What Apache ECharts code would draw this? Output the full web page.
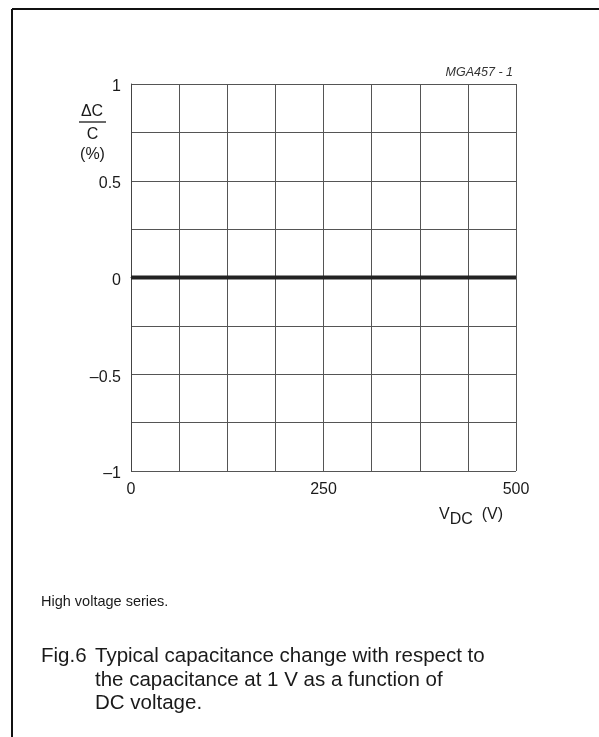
<!DOCTYPE html>
<html>
<head>
<meta charset="utf-8">
<style>
  html, body { margin: 0; padding: 0; background: #fff; }
  #chart { width: 599px; height: 737px; }
</style>
<script src="https://cdn.jsdelivr.net/npm/echarts@6/dist/echarts.min.js"></script>
</head>
<body>
<div id="chart"></div>
<script>
// data
const voltage = [0, 500];          // V_DC (V)
const capChange = [0, 0];          // ΔC/C (%)
const xTickLabels = [0, 250, 500];
const yTickLabels = [-1, -0.5, 0, 0.5, 1];

const FONT = 'Liberation Sans, Arial, Helvetica, sans-serif';
const INK = '#1a1a1a';

const chart = echarts.init(document.getElementById('chart'));

function fmtNum(v) {
  const s = String(Math.abs(v));
  return v < 0 ? '\u2013' + s : s;
}

function label(x, y, text, size) {
  return {
    type: 'text', x: x, y: y,
    style: { text: text, font: size + 'px ' + FONT, fill: INK, align: 'center', verticalAlign: 'middle' }
  };
}

chart.setOption({
  animation: false,
  backgroundColor: '#fff',
  grid: { left: 131, top: 84, width: 385, height: 387 },
  xAxis: {
    type: 'value',
    min: 0,
    max: 500,
    interval: 62.5,
    axisLine: { show: true, lineStyle: { color: '#444', width: 1 } },
    axisTick: { show: false },
    splitLine: { show: true, lineStyle: { color: '#555', width: 1 } },
    axisLabel: {
      margin: 11,
      fontSize: 16,
      color: INK,
      fontFamily: FONT,
      showMinLabel: true,
      showMaxLabel: true,
      formatter: v => xTickLabels.indexOf(v) >= 0 ? fmtNum(v) : ''
    }
  },
  yAxis: {
    type: 'value',
    min: -1,
    max: 1,
    interval: 0.25,
    axisLine: { show: true, lineStyle: { color: '#444', width: 1 } },
    axisTick: { show: false },
    splitLine: { show: true, lineStyle: { color: '#555', width: 1 } },
    axisLabel: {
      margin: 10,
      color: INK,
      formatter: v => yTickLabels.indexOf(v) >= 0 ? '{n|' + fmtNum(v) + '}' : '',
      rich: {
        n: { fontSize: 16, fontFamily: FONT, color: INK, padding: [6, 0, 0, 0] }
      }
    }
  },
  series: [{
    type: 'line',
    data: voltage.map((v, i) => [v, capChange[i]]),
    symbol: 'none',
    lineStyle: { color: '#222', width: 4 },
    z: 5
  }],
  graphic: [
    // page frame
    { type: 'line', shape: { x1: 12, y1: 9, x2: 599, y2: 9 }, style: { stroke: '#111', lineWidth: 2 } },
    { type: 'line', shape: { x1: 12, y1: 9, x2: 12, y2: 737 }, style: { stroke: '#111', lineWidth: 2 } },
    // drawing code
    { type: 'text', x: 513, y: 73,
      style: { text: 'MGA457 - 1', font: 'italic 12.5px ' + FONT, fill: '#333', align: 'right', verticalAlign: 'middle' } },
    // y axis name as a fraction
    label(92, 112, '\u0394C', 16),
    { type: 'line', shape: { x1: 79, y1: 122, x2: 106, y2: 122 }, style: { stroke: INK, lineWidth: 1.3 } },
    label(92.5, 135, 'C', 16),
    label(92.5, 155, '(%)', 16),
    // x axis name
    { type: 'text', x: 439, y: 502,
      style: {
        text: '{v|V}{s|DC}{u|  (V)}',
        rich: {
          v: { font: '16px ' + FONT, fill: INK },
          s: { font: '16px ' + FONT, fill: INK, padding: [10, 0, 0, 0] },
          u: { font: '16px ' + FONT, fill: INK }
        }
      } },
    // notes and caption
    { type: 'text', x: 41, y: 602,
      style: { text: 'High voltage series.', font: '14.5px ' + FONT, fill: INK, verticalAlign: 'middle' } },
    { type: 'text', x: 41, y: 656,
      style: { text: 'Fig.6', font: '20.5px ' + FONT, fill: INK, verticalAlign: 'middle' } },
    { type: 'text', x: 95, y: 645,
      style: {
        text: 'Typical capacitance change with respect to\nthe capacitance at 1 V as a function of\nDC voltage.',
        font: '20.5px ' + FONT, fill: INK, lineHeight: 23.5, verticalAlign: 'top'
      } }
  ]
});
</script>
</body>
</html>
